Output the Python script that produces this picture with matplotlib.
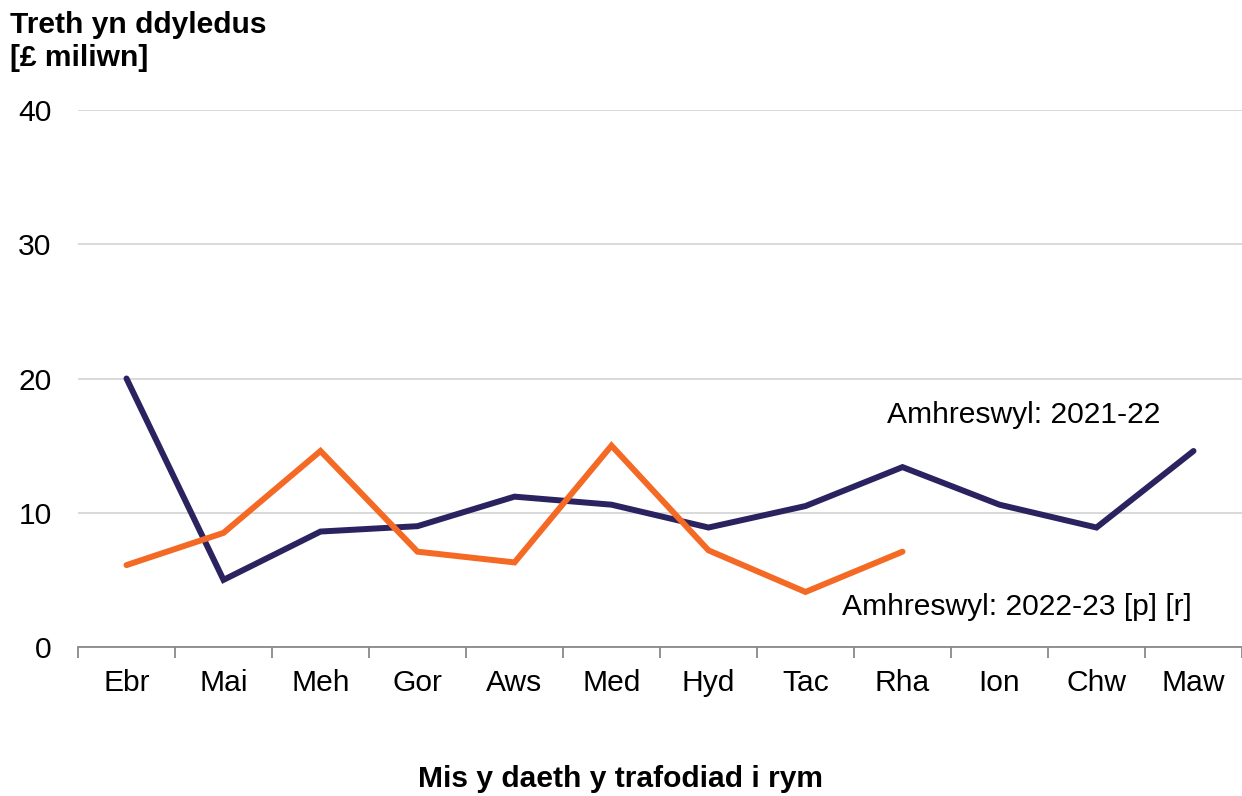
import matplotlib.pyplot as plt

plt.rcParams['font.family'] = ['Liberation Sans', 'DejaVu Sans']

months = ['Ebr', 'Mai', 'Meh', 'Gor', 'Aws', 'Med', 'Hyd', 'Tac', 'Rha', 'Ion', 'Chw', 'Maw']
tax_2122 = [20.0, 5.0, 8.6, 9.0, 11.2, 10.6, 8.9, 10.5, 13.4, 10.6, 8.9, 14.6]
tax_2223 = [6.1, 8.5, 14.6, 7.1, 6.3, 15.0, 7.2, 4.1, 7.1]

NAVY = '#2a2360'
ORANGE = '#f46a25'
FS = 21.6

fig = plt.figure(figsize=(12.42, 7.96), dpi=100)
ax = fig.add_axes([78 / 1242, 1 - 647 / 796, 1 - 78 / 1242, (647 - 110) / 796])

x = list(range(len(months)))
ax.plot(x, tax_2122, color=NAVY, lw=4.3, solid_capstyle='round', solid_joinstyle='miter', zorder=3)
ax.plot(x[:len(tax_2223)], tax_2223, color=ORANGE, lw=4.3, solid_capstyle='round',
        solid_joinstyle='miter', zorder=3)

ax.set_xlim(-0.5, len(months) - 0.5)
ax.set_ylim(0, 40)
ax.set_yticks([0, 10, 20, 30, 40])
ax.set_xticks(x)
ax.set_xticklabels(months)
ax.set_xticks([i - 0.5 for i in range(len(months) + 1)], minor=True)
ax.tick_params(axis='x', which='major', length=0, pad=16, labelsize=FS)
ax.tick_params(axis='x', which='minor', length=8, width=1.3, color='#898989')
ax.tick_params(axis='y', length=0, pad=19, labelsize=FS)

ax.grid(axis='y', color='#d9d9d9', lw=1.4)
ax.set_axisbelow(True)
for s in ['top', 'right', 'left']:
    ax.spines[s].set_visible(False)
ax.spines['bottom'].set_color('#898989')
ax.spines['bottom'].set_linewidth(1.3)
ax.spines['bottom'].set_zorder(4)

ax.text(7.84, 17.3, 'Amhreswyl: 2021-22', fontsize=FS, ha='left', va='center')
ax.text(7.38, 3.0, 'Amhreswyl: 2022-23 [p] [r]', fontsize=FS, ha='left', va='center')

fig.text(10 / 1242, 1 - 25 / 796, 'Treth yn ddyledus', fontsize=FS, fontweight='bold', va='center')
fig.text(10 / 1242, 1 - 58 / 796, '[£ miliwn]', fontsize=FS, fontweight='bold', va='center')
fig.text(620 / 1242, 1 - 779 / 796, 'Mis y daeth y trafodiad i rym', fontsize=FS,
         fontweight='bold', ha='center', va='center')

fig.savefig('out.png', dpi=100)
